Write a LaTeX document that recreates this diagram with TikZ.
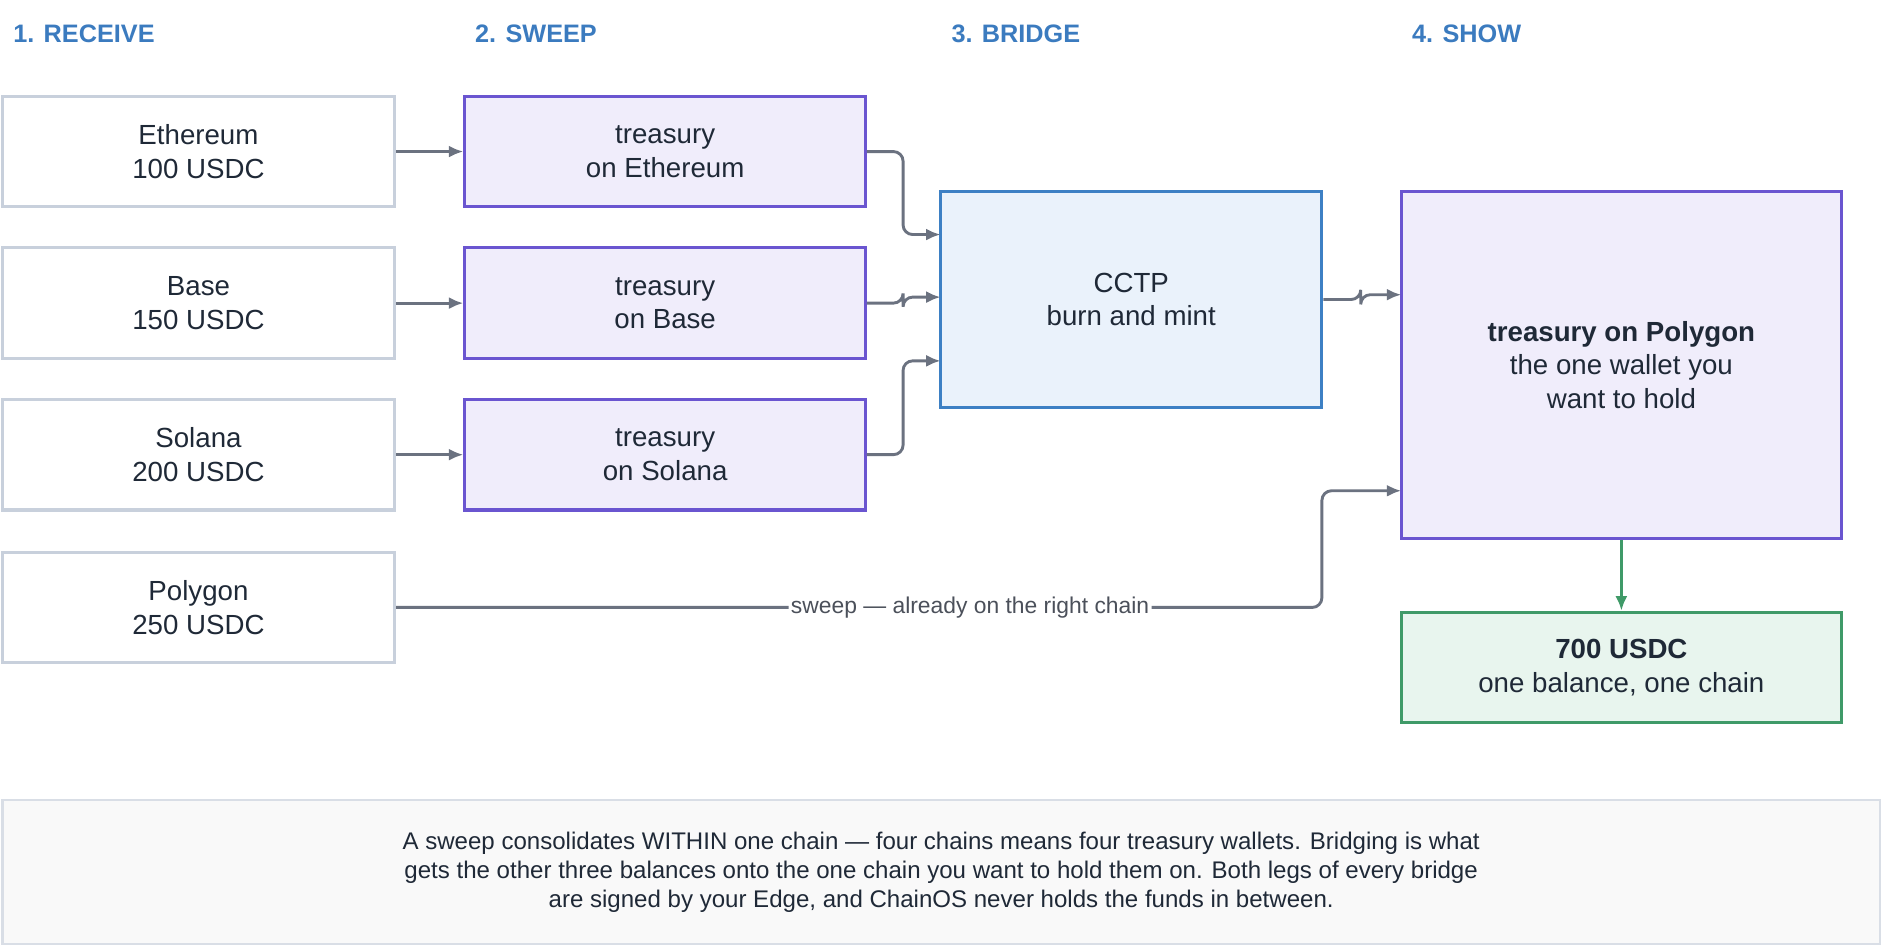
\documentclass[tikz,border=0pt]{standalone}
\usepackage{fontspec}
\setmainfont{Liberation Sans}
\usetikzlibrary{positioning,arrows.meta}
\definecolor{hdr}{HTML}{3B7BBF}
\definecolor{gline}{HTML}{C8D0DC}
\definecolor{purp}{HTML}{6A55D0}
\definecolor{lav}{HTML}{F0EDFB}
\definecolor{bblue}{HTML}{3D80C4}
\definecolor{lblue}{HTML}{EAF2FB}
\definecolor{gr}{HTML}{3F9A68}
\definecolor{lgr}{HTML}{E8F5EE}
\definecolor{arr}{HTML}{6B7280}
\definecolor{txt}{HTML}{1F2937}
\begin{document}
\begin{tikzpicture}[
		%Global config
		x=0.5pt, y=-0.5pt,
		>={Latex[length=6pt,width=5pt]},
		font=\fontsize{11.5}{14}\selectfont,
		text=txt,
		%Styles
		Header/.style={anchor=west, text=hdr, font=\fontsize{10.5}{12}\selectfont\bfseries},
		Src/.style={draw=gline, line width=1.3pt, fill=white, minimum width=163pt, minimum height=46pt, align=center},
		Tre/.style={draw=purp, line width=1.3pt, fill=lav, minimum width=166.5pt, minimum height=46pt, align=center},
		Link/.style={->, draw=arr, line width=1.2pt, rounded corners=4pt},
		]
		\useasboundingbox (0,0) rectangle (1568,788);
		
		\node[Header] (h1) at (4,28) {1. RECEIVE};
		\node[Header] (h2) at (388,28) {2. SWEEP};
		\node[Header] (h3) at (784,28) {3. BRIDGE};
		\node[Header] (h4) at (1167,28) {4. SHOW};
		
		% receive column
		\node[Src] (eth) at (165,126) {Ethereum\\100 USDC};
		\node[Src] (base) at (165,252) {Base\\150 USDC};
		\node[Src] (sol) at (165,378) {Solana\\200 USDC};
		\node[Src] (poly) at (165,505) {Polygon\\250 USDC};
		
		% sweep column
		\node[Tre] (teth) at (553,126) {treasury\\on Ethereum};
		\node[Tre] (tbase) at (553,252) {treasury\\on Base};
		\node[Tre] (tsol) at (553,378) {treasury\\on Solana};
		
		% bridge and show
		\node[draw=bblue, line width=1.3pt, fill=lblue, minimum width=158.5pt, minimum height=90pt, align=center] (cctp) at (940.5,249) {CCTP\\burn and mint};
		\node[Tre, minimum width=183pt, minimum height=144.5pt] (tpoly) at (1348,303.5) {\textbf{treasury on Polygon}\\the one wallet you\\want to hold};
		\node[draw=gr, line width=1.3pt, fill=lgr, minimum width=183pt, minimum height=46pt, align=center] (total) at (1348,555) {\textbf{700 USDC}\\one balance, one chain};
		
		\coordinate (in1) at (782,195);
		\coordinate (in2) at (782,247);
		\coordinate (in3) at (782,300);
		\coordinate (in4) at (1165,245);
		\coordinate (in5) at (1165,408);
		
		\foreach \a/\b in {eth/teth, base/tbase, sol/tsol}
			\draw[Link] (\a.east) -- (\b.west);
		\draw[Link] (teth.east) -- ++(30,0) |- (in1);
		\draw[Link] (tbase.east) -- ++(30,0) |- (in2);
		\draw[Link] (tsol.east) -- ++(30,0) |- (in3);
		\draw[Link] (cctp.east |- 0,249) -- ++(31,0) |- (in4);
		\draw[Link] (poly.east) -- (1099,505) node[pos=0.62, fill=white, inner sep=1pt, font=\fontsize{9.5}{11}\selectfont, text=arr!70!black] {sweep — already on the right chain} |- (in5);
		\draw[->, draw=gr, line width=1.2pt] (tpoly.south) -- (total.north);
		
		% note
		\node[draw=gline!70, line width=1pt, fill=gray!5, minimum width=780.5pt, minimum height=60pt, align=center, font=\fontsize{10}{12}\selectfont] (note) at (782.5,725) {A sweep consolidates WITHIN one chain — four chains means four treasury wallets. Bridging is what\\gets the other three balances onto the one chain you want to hold them on. Both legs of every bridge\\are signed by your Edge, and ChainOS never holds the funds in between.};
	\end{tikzpicture}
\end{document}
